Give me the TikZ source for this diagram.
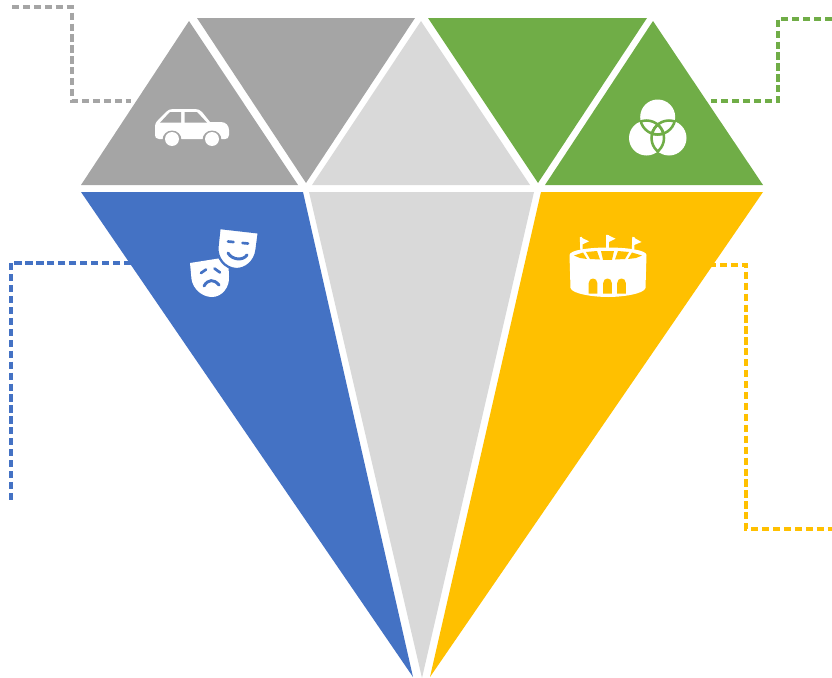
\documentclass[tikz,border=0pt]{standalone}
\definecolor{cgray}{HTML}{A5A5A5}
\definecolor{clight}{HTML}{D9D9D9}
\definecolor{cgreen}{HTML}{70AD47}
\definecolor{cblue}{HTML}{4472C4}
\definecolor{cyellow}{HTML}{FFC000}
\tikzset{
  leaderline/.style={draw,line width=2.4pt,dash pattern=on 5.4pt off 2.8pt},
  icon/.style={fill=white,draw=none}}
\begin{document}
\begin{tikzpicture}[x=0.75pt,y=-0.75pt]
\useasboundingbox (0,0) rectangle (832,678);
% facets
\fill[cgray] (189,21) -- (81,185) -- (298,185) -- cycle;
\fill[cgray] (197,18) -- (415,18) -- (306,183) -- cycle;
\fill[clight] (421,21) -- (312,185) -- (530,185) -- cycle;
\fill[cgreen] (428,18) -- (647,18) -- (538,183) -- cycle;
\fill[cgreen] (653,21) -- (545,185) -- (763,185) -- cycle;
\fill[cblue] (81,192) -- (303,192) -- (413,677) -- cycle;
\fill[clight] (309,192) -- (534,192) -- (422,678) -- cycle;
\fill[cyellow] (541,192) -- (763,192) -- (430,677) -- cycle;
% leaders
\coordinate (g1) at (12,7); \coordinate (g2) at (72,7); \coordinate (g3) at (72,101); \coordinate (g4) at (131,101);
\path[leaderline,draw=cgray] (g1) -- (g2) -- (g3) -- (g4);
\coordinate (v1) at (832,19); \coordinate (v2) at (778,19); \coordinate (v3) at (778,101); \coordinate (v4) at (711,101);
\path[leaderline,draw=cgreen] (v1) -- (v2) -- (v3) -- (v4);
\coordinate (b1) at (131,263); \coordinate (b2) at (11,263); \coordinate (b3) at (11,501);
\path[leaderline,draw=cblue] (b1) -- (b2) -- (b3);
\coordinate (y1) at (709,265); \coordinate (y2) at (746,265); \coordinate (y3) at (746,529); \coordinate (y4) at (832,529);
\path[leaderline,draw=cyellow] (y1) -- (y2) -- (y3) -- (y4);
% car
\fill[icon] (155,127) .. controls (155,123) and (157,121) .. (159,119)
  -- (166,112) .. controls (168,110) and (170,109) .. (173,109)
  -- (195,109) .. controls (198,109) and (200,110) .. (202,112)
  -- (210,122) -- (221,122) .. controls (226,122) and (229,126) .. (229,130)
  -- (229,135) .. controls (229,138) and (227,139) .. (225,139)
  -- (159,139) .. controls (156,139) and (155,137) .. (155,135) -- cycle;
\fill[cgray] (160,122.7) -- (170,112) -- (181,112) -- (181,122.7) -- cycle;
\fill[cgray] (184.7,112) -- (197,112) -- (207,122.7) -- (184.7,122.7) -- cycle;
\fill[cgray] (172,140) circle (9.5);
\fill[cgray] (212,140) circle (9.5);
\fill[cgray] (160,139.6) rectangle (225,142);
\fill[icon] (172,139) circle (7);
\fill[icon] (212,139) circle (7);
% venn
\fill[icon] (657.7,117) circle (17.5);
\fill[icon] (646.5,138) circle (17.5);
\fill[icon] (669,138) circle (17.5);
\begin{scope}
  \clip (657.7,117) circle (18.5);
  \draw[cgreen,line width=1.9pt] (646.5,138) circle (17.5) (669,138) circle (17.5);
\end{scope}
\begin{scope}
  \clip (646.5,138) circle (18.5);
  \draw[cgreen,line width=1.9pt] (657.7,117) circle (17.5) (669,138) circle (17.5);
\end{scope}
\begin{scope}
  \clip (669,138) circle (18.5);
  \draw[cgreen,line width=1.9pt] (657.7,117) circle (17.5) (646.5,138) circle (17.5);
\end{scope}
% sad mask
\fill[icon] (190,263) -- (228,257) -- (229,276)
  .. controls (230,287) and (222,297) .. (212,297)
  .. controls (202,297) and (193,289) .. (191.5,279) -- cycle;
\draw[cblue,line width=2pt,line cap=round] (201,273) -- (206,269.5);
\draw[cblue,line width=2pt,line cap=round] (214.5,268.5) -- (220,272.5);
\draw[cblue,line width=2.2pt,line cap=round] (204,286) .. controls (208,279) and (214,279) .. (219,285);
% happy mask
\fill[icon,draw=cblue,line width=1.7pt] (219.5,228) -- (258.8,232.5) -- (256.5,250)
  .. controls (255,262) and (245,269.5) .. (236,269)
  .. controls (225,268.5) and (216.5,258) .. (217.5,247) -- cycle;
\draw[cblue,line width=2pt,line cap=round] (228,241.5) -- (233.5,242);
\draw[cblue,line width=2pt,line cap=round] (242.5,243) -- (248,243.5);
\draw[cblue,line width=2.2pt,line cap=round] (228,253) .. controls (232,260) and (243,261) .. (247,255);
% stadium
\fill[icon] (569.5,255) .. controls (569.5,250) and (590,247.5) .. (608,247.5)
  .. controls (626,247.5) and (646.5,250) .. (646.5,255)
  -- (645.5,288) .. controls (644,294) and (622,297) .. (608,297)
  .. controls (594,297) and (572,294) .. (570.5,288) -- cycle;
\fill[cyellow] (574,255.5) -- (583,252.5) -- (587,259) -- (580,258) -- cycle;
\fill[cyellow] (586,252) -- (597,251) -- (600,259.5) -- (590,259) -- cycle;
\fill[cyellow] (601,251) -- (614,251) -- (612,259.8) -- (603,259.8) -- cycle;
\fill[cyellow] (618,251) -- (629,252) -- (625,259) -- (615,259.5) -- cycle;
\fill[cyellow] (632,252.5) -- (642,255.5) -- (636,258) -- (628,259) -- cycle;
\foreach \cx in {593,607.5,621.5}{
  \fill[cyellow] (\cx-4.3,293.5) -- (\cx-4.3,283) .. controls (\cx-4.3,277) and (\cx+4.3,277) .. (\cx+4.3,283) -- (\cx+4.3,293.5) -- cycle;
}
\draw[white,line width=1.8pt] (581,237) -- (581.5,250);
\draw[white,line width=1.8pt] (607.5,235) -- (607.5,248);
\draw[white,line width=1.8pt] (633.5,237) -- (633,250);
\fill[icon] (580,237) -- (589,241.3) -- (580,245.6) -- cycle;
\fill[icon] (606.7,234.5) -- (615.5,238.7) -- (606.7,243) -- cycle;
\fill[icon] (632.7,237) -- (641.5,242) -- (632.7,245.6) -- cycle;
\end{tikzpicture}
\end{document}
